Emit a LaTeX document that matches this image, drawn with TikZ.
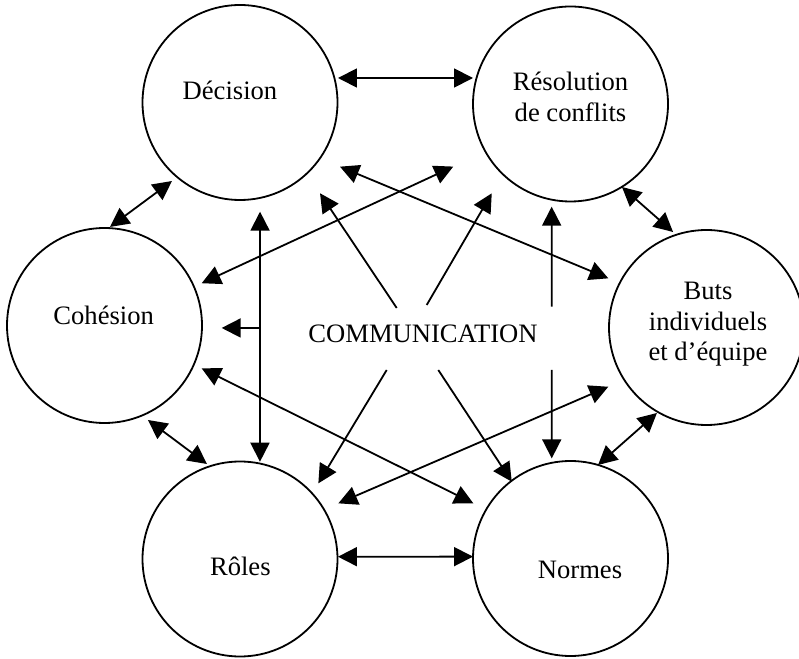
\documentclass[tikz,border=0pt]{standalone}
\usepackage{fontspec}
\setmainfont{Liberation Serif}
\usetikzlibrary{arrows.meta,calc}
\begin{document}
\begin{tikzpicture}[x=1pt,y=1pt,
  every node/.style={inner sep=0pt, outer sep=0pt},
  bubble/.style={circle, draw, line width=1.8pt, minimum size=195pt},
  lbl/.style={anchor=base, font=\fontsize{26.6}{30.2}\selectfont},
  link/.style={line width=1.8pt, {Triangle[length=19pt,width=19pt]}-{Triangle[length=19pt,width=19pt]}},
  feed/.style={line width=1.8pt, -{Triangle[length=19pt,width=19pt]}},
]
\useasboundingbox (0,0) rectangle (799,658);

% the six circles
\node[bubble] (dec) at (240,555.5) {};
\node[bubble] (res) at (570.5,554) {};
\node[bubble] (coh) at (104.5,332.5) {};
\node[bubble] (but) at (706.5,330.5) {};
\node[bubble] (rol) at (240,99) {};
\node[bubble] (nor) at (570.5,99.5) {};

% labels
\node[lbl] (tdec) at (230,558.7) {Décision};
\node[lbl] (tres) at (570.5,567) {\begin{tabular}[t]{@{}c@{}}Résolution\\de conflits\end{tabular}};
\node[lbl] (tcoh) at (103.7,333.7) {Cohésion};
\node[lbl] (tbut) at (708,358) {\begin{tabular}[t]{@{}c@{}}Buts\\individuels\\et d’équipe\end{tabular}};
\node[lbl] (trol) at (240.3,83) {Rôles};
\node[lbl] (tnor) at (580,79.7) {Normes};
\node[lbl] (com) at (423,315) {COMMUNICATION};

% ring of neighbouring links
\draw[link] ($(dec)+(14.04:101)$) -- ($(res)+(165.07:100.9)$);
\draw[link] ($(dec)+(229.1:103.9)$) -- ($(coh)+(86.8:98.7)$);
\draw[link] ($(res)+(301.8:97.7)$) -- ($(but)+(109.3:101.2)$);
\draw[link] ($(coh)+(294.7:104)$) -- ($(rol)+(109.2:100.6)$);
\draw[link] ($(but)+(239.9:98.8)$) -- ($(nor)+(73.6:97.5)$);
\draw[link] ($(rol)+(1.34:98)$) -- ($(nor)+(178.9:97.5)$);

% crossing links
\draw[link] ($(coh)+(23.5:106)$) -- ($(res)+(208.1:132.9)$);
\draw[link] ($(dec)+(327.3:118.8)$) -- ($(but)+(153.4:109.8)$);
\draw[link] ($(coh)+(336.2:106.2)$) -- ($(nor)+(150.4:111.8)$);
\draw[link] ($(rol)+(29.5:113)$) -- ($(but)+(211.1:114.7)$);

% branching connector on the left
\coordinate (J) at (260,330);
\draw[feed] (J) -- ($(dec)+(280.4:111)$);
\draw[feed] (J) -- ($(rol)+(78.4:99.3)$);
\draw[feed] (J) -- ($(coh)+(358.8:117.2)$);

% arrows leaving COMMUNICATION
\coordinate (c1) at (396.7,350);
\coordinate (c2) at (426.7,353);
\coordinate (c3) at (551.7,351.3);
\coordinate (c4) at (386.7,288);
\coordinate (c5) at (438.3,288);
\coordinate (c6) at (551.7,288);
\draw[feed] (c1) -- ($(dec)+(311.4:121)$);
\draw[feed] (c2) -- ($(res)+(228.6:119.1)$);
\draw[feed] (c3) -- ($(res)+(259.6:104.4)$);
\draw[feed] (c4) -- ($(rol)+(44:108.9)$);
\draw[feed] (c5) -- ($(nor)+(127.4:96.7)$);
\draw[feed] (c6) -- ($(nor)+(100.6:101.9)$);
\end{tikzpicture}
\end{document}
